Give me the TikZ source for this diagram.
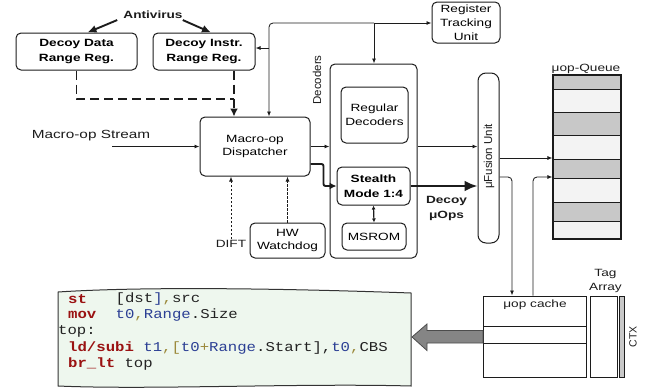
\documentclass[tikz,border=0pt]{standalone}
\usepackage{fontspec}
\setmainfont{Liberation Sans}[FakeStretch=1.3]
\newfontfamily\rotfont{Liberation Sans}
\newfontfamily\codefont{Liberation Mono}[FakeStretch=1.16]
\usetikzlibrary{arrows.meta,calc}
\definecolor{kw}{HTML}{9A1212}
\definecolor{cb}{HTML}{2B3F94}
\definecolor{ol}{HTML}{9C8A3C}
\definecolor{ct}{HTML}{222222}
\definecolor{qdark}{HTML}{C8C8C8}
\definecolor{qlight}{HTML}{F3F3F3}
\definecolor{codebg}{HTML}{EEF7EE}
\definecolor{linec}{HTML}{1C1C1C}
\begin{document}
\begin{tikzpicture}[x=1pt,y=-1pt,
  font=\fontsize{10.5}{14}\selectfont,
  blk/.style={draw=linec, line width=1pt, rounded corners=5pt, fill=white, align=center, inner sep=0pt},
  sq/.style={draw=linec, line width=1pt, fill=white, inner sep=0pt},
  lbl/.style={inner sep=1pt, align=center, text=linec},
  ar/.style={-{Latex[length=5pt,width=4pt]}, line width=0.85pt, draw=linec},
  dar/.style={ar, dash pattern=on 2.5pt off 1.5pt},
  tarr/.style={-{Latex[length=9pt,width=8pt]}, line width=1.9pt, draw=linec},
  tdash/.style={line width=1.9pt, draw=linec, dash pattern=on 9pt off 5pt},
  codetxt/.style={inner sep=0pt, anchor=west, font=\codefont\fontsize{13.5}{15}\selectfont, text=ct},
]
\useasboundingbox (0,0) rectangle (646,389);

% ---- top: antivirus and range registers
\node[lbl, font=\fontsize{10.5}{14}\selectfont\bfseries] (av) at (153,15) {Antivirus};
\node[blk, minimum width=121pt, minimum height=37pt, font=\fontsize{10.5}{15}\selectfont\bfseries] (data) at (76.5,51.5) {Decoy Data\\Range Reg.};
\node[blk, minimum width=102pt, minimum height=37pt, font=\fontsize{10.5}{15}\selectfont\bfseries] (instr) at (204,51.5) {Decoy Instr.\\Range Reg.};
\draw[tarr] ([xshift=-5pt]av.south west) -- ([xshift=11pt]data.north);
\draw[tarr] ([xshift=-1pt]av.south east) -- ([xshift=7pt]instr.north);

% ---- dispatcher
\node[blk, minimum width=110pt, minimum height=59pt, font=\fontsize{10.5}{13}\selectfont] (disp) at (255,146.5) {Macro-op\\Dispatcher};
\coordinate (dj) at (234,99);
\draw[tdash] (data.south) |- (dj);
\draw[tdash] (instr.south -| dj) -- (dj);
\draw[tdash, -{Latex[length=8pt,width=8pt]}] (dj) -- (disp.north -| dj);

% ---- register tracking unit
\node[blk, minimum width=68pt, minimum height=41pt] (rtu) at (466,22.5) {Register\\Tracking\\Unit};

% ---- decoders
\node[blk, minimum width=87pt, minimum height=194pt] (dec) at (373.5,161) {};
\node[lbl, rotate=90, font=\rotfont\fontsize{11.5}{14}\selectfont] (declbl) at (317,80) {Decoders};
\node[blk, minimum width=67pt, minimum height=56pt] (reg) at (374.5,115) {Regular\\Decoders};
\node[blk, minimum width=73pt, minimum height=38pt, font=\fontsize{10.5}{15}\selectfont\bfseries] (stealth) at (373.5,186) {Stealth\\Mode 1:4};
\node[blk, minimum width=64pt, minimum height=27pt] (msrom) at (374,236.5) {MSROM};
\draw[{Latex[length=4pt,width=4pt]}-{Latex[length=4pt,width=4pt]}, line width=1.2pt, draw=linec] (stealth.south) -- (msrom.north);

% ---- top distribution lines
\coordinate (tj) at (269,23);
\coordinate (tb) at (374,23);
\coordinate (ti) at (269,48);
\draw[ar, rounded corners=4pt] (tb) -| (disp.north -| tj);
\draw[ar] (tb) -- (tb -| rtu.west);
\draw[ar] (tb) -- (tb |- dec.north);
\draw[ar] (ti) -- (ti -| instr.east);

% ---- macro-op stream, DIFT, watchdog
\node[lbl, font=\fontsize{11.8}{14}\selectfont] (ms) at (91,136) {Macro-op Stream};
\coordinate (msa) at (112,146.5);
\draw[ar] (msa) -- (disp.west);
\node[blk, minimum width=75pt, minimum height=35pt, font=\fontsize{10.5}{13}\selectfont] (hw) at (287.5,240.5) {HW\\Watchdog};
\node[lbl] (dift) at (231,244) {DIFT};
\draw[dar] (dift.north) -- (dift.north |- disp.south);
\draw[dar] (hw.north) -- (hw.north |- disp.south);

% ---- dispatcher to decoders
\draw[ar] (disp.east) -- (disp.east -| dec.west);
\draw[-{Latex[length=7pt,width=7pt]}, line width=1.9pt, draw=linec, rounded corners=2pt] ([yshift=-17.5pt]disp.east) -- ++(13,0) |- (stealth.west);

% ---- fusion unit
\node[blk, rounded corners=8pt, minimum width=21pt, minimum height=170pt] (fus) at (488.5,158) {};
\node[lbl, rotate=90, font=\rotfont\fontsize{11.5}{14}\selectfont] (fuslbl) at (489,156.5) {μFusion Unit};
\draw[ar] (dec.east |- disp.east) -- (fus.west |- disp.east);
\draw[-{Latex[length=13pt,width=11pt]}, line width=2.6pt, draw=linec] (stealth.east) -- (stealth.east -| fus.west);
\node[lbl, font=\fontsize{10.5}{15}\selectfont\bfseries] (decoy) at (446.5,208.5) {Decoy\\μOps};

% ---- uop queue
\foreach \a/\b/\c in {75/89/qdark, 89/112/qlight, 112/135/qdark, 135/159/qlight, 159/178/qdark, 178/202/qlight, 202/221/qdark, 221/239/qlight}
  \draw[fill=\c, draw=linec, line width=0.9pt] (553,\a) rectangle (621,\b);
\node[draw=linec, line width=1.1pt, minimum width=68pt, minimum height=164pt, inner sep=0pt] (queue) at (587,157) {};
\node[lbl, anchor=south] (qlbl) at (586,75) {μop-Queue};

% ---- uop cache, tag array, ctx
\node[sq, minimum width=103pt, minimum height=81pt] (cache) at (534.5,336.5) {};
\draw[linec, line width=0.9pt] (483,326) -- (586,326);
\draw[linec, line width=0.9pt] (483,343) -- (586,343);
\node[lbl] (clbl) at (535,305) {μop cache};
\node[sq, minimum width=27pt, minimum height=81pt] (tag) at (603.5,336.5) {};
\node[lbl, font=\fontsize{10.5}{14}\selectfont] (taglbl) at (605.5,281) {Tag\\Array};
\node[sq, fill=qdark, line width=0.8pt, minimum width=5pt, minimum height=81pt] (ctx) at (621.5,336.5) {};
\node[lbl, rotate=90, font=\rotfont\fontsize{10.5}{14}\selectfont] (ctxlbl) at (633,337) {CTX};

\coordinate (fc) at (512,177);
\draw[ar, rounded corners=4pt] (fus.east |- fc) -| ([xshift=-22.5pt]cache.north);
\draw[ar, rounded corners=4pt] ([xshift=-1.5pt]cache.north) |- (queue.west |- fc);
\draw[ar] (fus.east) -- (fus.east -| queue.west);

% ---- code box
\draw[draw=black!80, line width=1pt, fill=codebg]
  (58,292) .. controls (150,286) and (300,289) .. (411,293)
  -- (411,386) .. controls (300,383) and (150,390) .. (58,386) -- cycle;
\node[codetxt] (c1a) at (68,299) {\bfseries\color{kw}st};
\node[codetxt] (c1b) at (115.5,299) {[dst{\color{cb}]}{\color{ol},}src};
\node[codetxt] (c2a) at (68,315) {\bfseries\color{kw}mov};
\node[codetxt] (c2b) at (115.5,315) {{\color{cb}t0}{\color{ol},}{\color{cb}Range}.Size};
\node[codetxt] (c3) at (58,331.5) {top:};
\node[codetxt] (c4) at (68,348) {{\bfseries\color{kw}ld/subi} {\color{cb}t1}{\color{ol},[}{\color{cb}t0}{\color{ol}+}{\color{cb}Range}.Start],{\color{cb}t0}{\color{ol},}CBS};
\node[codetxt] (c5) at (68,364) {{\bfseries\color{kw}br\_lt} top};

% ---- big gray arrow from cache to code
\draw[draw=black!70, line width=0.8pt, fill=black!48]
  (483,330.5) -- (427,330.5) -- (427,324) -- (412,337) -- (427,350.5) -- (427,343) -- (483,343) -- cycle;
\end{tikzpicture}
\end{document}
